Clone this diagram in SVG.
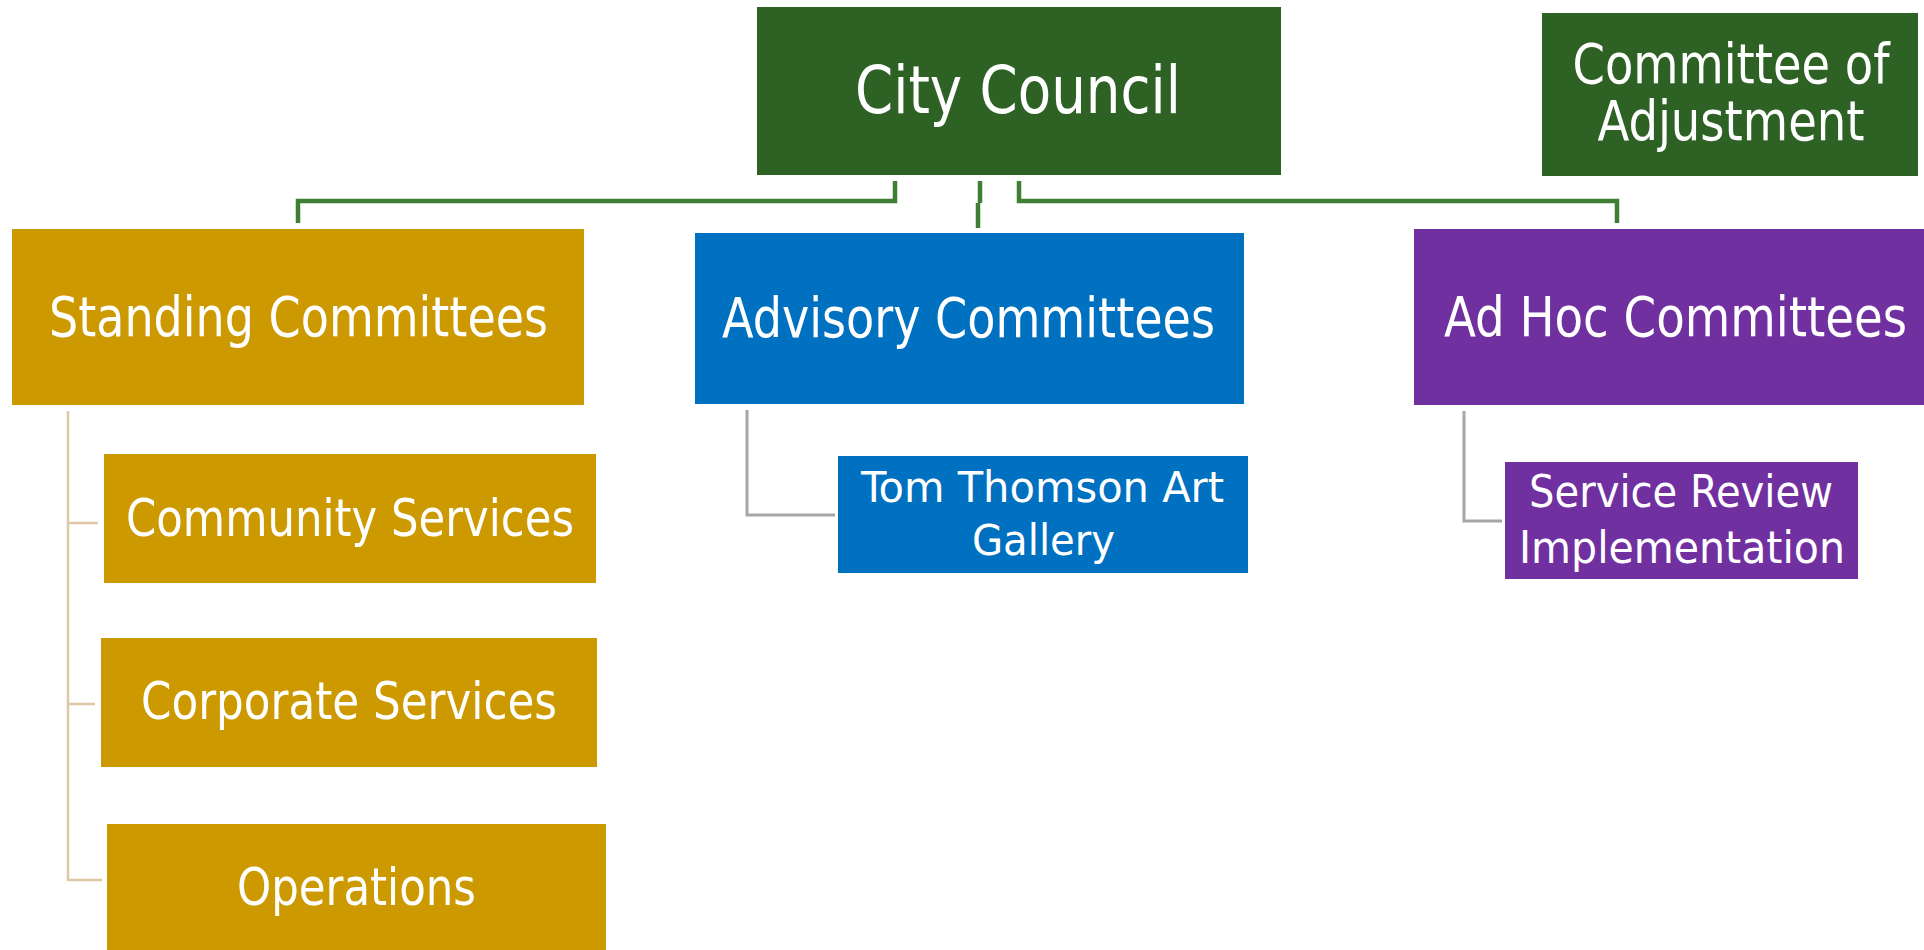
<svg xmlns="http://www.w3.org/2000/svg" width="1924" height="950" viewBox="0 0 1924 950">
<style>
text{font-family:"DejaVu Sans Condensed","DejaVu Sans",sans-serif;fill:#ffffff;text-anchor:middle}
.green{fill:#2e6124}
.gold{fill:#cc9900}
.blue{fill:#0070c0}
.purple{fill:#7030a0}
.gc{fill:none;stroke:#3f7f33;stroke-width:4.5}
.gray{fill:none;stroke:#a6a6a6;stroke-width:3}
.tan{fill:none;stroke:#e0c8a6;stroke-width:2.5}
</style>
<rect width="1924" height="950" fill="#ffffff"/>
<g id="connectors">
<path class="gc" d="M895,181 V201 H298 V223"/>
<path class="gc" d="M980,181 V203"/>
<path class="gc" d="M978,203 V228"/>
<path class="gc" d="M1019,181 V201 H1617 V223"/>
<path class="gray" d="M747,410 V515 H835"/>
<path class="gray" d="M1464,411 V521 H1502"/>
<path class="tan" d="M68,411 V880 H102"/>
<path class="tan" d="M68,523 H98"/>
<path class="tan" d="M68,704 H95"/>
</g>
<g id="city-council">
<rect class="green" x="757" y="7" width="524" height="168"/>
<text x="1018" y="113" font-size="66" textLength="326" lengthAdjust="spacingAndGlyphs">City Council</text>
</g>
<g id="committee-of-adjustment">
<rect class="green" x="1542" y="13" width="376" height="163"/>
<text x="1731" y="83" font-size="55" textLength="317" lengthAdjust="spacingAndGlyphs">Committee of</text>
<text x="1731" y="140" font-size="55" textLength="267" lengthAdjust="spacingAndGlyphs">Adjustment</text>
</g>
<g id="standing-committees">
<rect class="gold" x="12" y="229" width="572" height="176"/>
<text x="298.5" y="336" font-size="56" textLength="499" lengthAdjust="spacingAndGlyphs">Standing Committees</text>
</g>
<g id="advisory-committees">
<rect class="blue" x="695" y="233" width="549" height="171"/>
<text x="968.5" y="337" font-size="56" textLength="493" lengthAdjust="spacingAndGlyphs">Advisory Committees</text>
</g>
<g id="ad-hoc-committees">
<rect class="purple" x="1414" y="229" width="512" height="176"/>
<text x="1675.5" y="336" font-size="56" textLength="463" lengthAdjust="spacingAndGlyphs">Ad Hoc Committees</text>
</g>
<g id="tom-thomson">
<rect class="blue" x="838" y="456" width="410" height="117"/>
<text x="1042.5" y="502" font-size="43" textLength="363" lengthAdjust="spacingAndGlyphs">Tom Thomson Art</text>
<text x="1043.5" y="555" font-size="43" textLength="143" lengthAdjust="spacingAndGlyphs">Gallery</text>
</g>
<g id="service-review">
<rect class="purple" x="1505" y="462" width="353" height="117"/>
<text x="1681" y="507" font-size="44" textLength="304" lengthAdjust="spacingAndGlyphs">Service Review</text>
<text x="1682" y="563" font-size="44" textLength="326" lengthAdjust="spacingAndGlyphs">Implementation</text>
</g>
<g id="community-services">
<rect class="gold" x="104" y="454" width="492" height="129"/>
<text x="350" y="536" font-size="51" textLength="448" lengthAdjust="spacingAndGlyphs">Community Services</text>
</g>
<g id="corporate-services">
<rect class="gold" x="101" y="638" width="496" height="129"/>
<text x="349" y="719" font-size="51" textLength="416" lengthAdjust="spacingAndGlyphs">Corporate Services</text>
</g>
<g id="operations">
<rect class="gold" x="107" y="824" width="499" height="130"/>
<text x="356.5" y="905" font-size="51" textLength="239" lengthAdjust="spacingAndGlyphs">Operations</text>
</g>
</svg>
